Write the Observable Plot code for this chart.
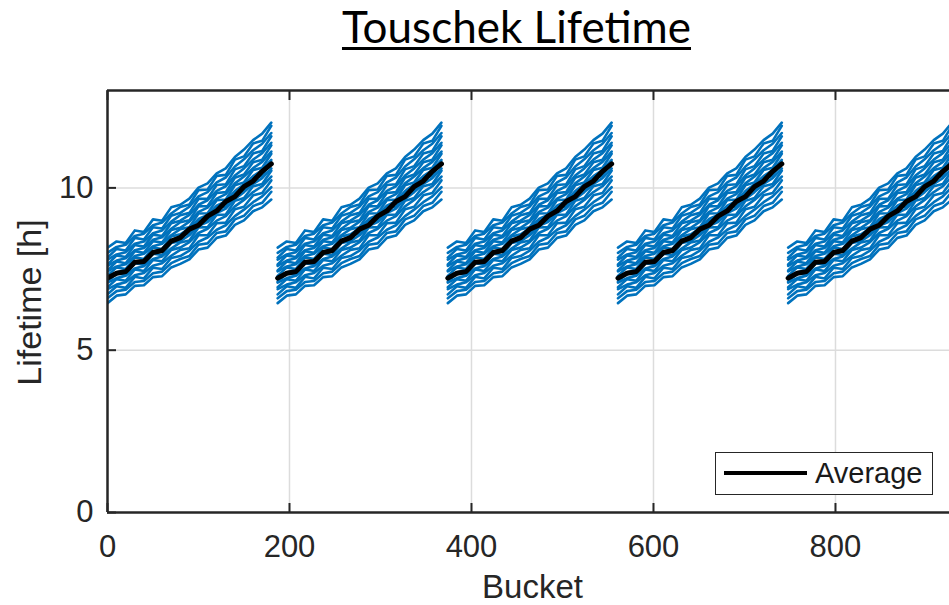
<!DOCTYPE html>
<html>
<head>
<meta charset="utf-8">
<script src="https://cdn.jsdelivr.net/npm/d3@7"></script>
<script src="https://cdn.jsdelivr.net/npm/@observablehq/plot@0.6"></script>
<style>
  html, body { margin: 0; padding: 0; background: #fff; }
  #wrap { position: relative; width: 949px; height: 605px; overflow: hidden; font-family: "Liberation Sans", Arial, sans-serif; }
  #title { position: absolute; left: 0; width: 1033px; top: 5px; text-align: center; font-family: Lato, sans-serif; font-size: 44px; line-height: 43px; color: #000; text-decoration: underline; text-decoration-thickness: 3px; text-underline-offset: 4px; }
  #chart { position: absolute; left: 0; top: 0; }
  #legend { position: absolute; left: 715px; top: 452px; width: 216px; height: 41px; background: #fff; border: 1.5px solid #262626; }
  #legend .sw { position: absolute; left: 8px; top: 18px; width: 83px; height: 4px; background: #000; }
  #legend .lb { position: absolute; left: 99px; top: 4px; font-size: 29px; line-height: 32px; color: #1a1a1a; }
</style>
</head>
<body>
<div id="wrap">
  <div id="chart"></div>
  <div id="title">Touschek Lifetime</div>
  <div id="legend"><div class="sw"></div><div class="lb">Average</div></div>
</div>
<script>
// Train layout (bucket numbers)
const trainStarts = [0, 187, 374, 561, 748];
const bucketOffsets = [0, 10, 20, 30, 40, 50, 60, 70, 80, 90, 100, 110, 120, 130, 140, 150, 160, 170, 180];

// Individual bunch-lifetime traces (hours), read at the offsets above
const blueTraces = [
  [6.45, 6.68, 6.72, 6.98, 7.00, 7.25, 7.28, 7.55, 7.66, 7.80, 8.10, 8.16, 8.46, 8.53, 8.86, 9.00, 9.28, 9.40, 9.64],
  [6.60, 6.82, 6.86, 7.10, 7.13, 7.37, 7.42, 7.68, 7.81, 7.90, 8.25, 8.29, 8.61, 8.66, 9.03, 9.14, 9.44, 9.54, 9.88],
  [6.72, 6.97, 6.92, 7.26, 7.21, 7.54, 7.50, 7.84, 7.90, 8.07, 8.34, 8.47, 8.71, 8.85, 9.13, 9.33, 9.56, 9.74, 10.02],
  [6.88, 7.02, 7.09, 7.31, 7.38, 7.60, 7.68, 7.91, 8.09, 8.14, 8.54, 8.54, 8.91, 8.93, 9.34, 9.42, 9.77, 9.84, 10.23],
  [6.94, 7.19, 7.14, 7.49, 7.44, 7.78, 7.74, 8.09, 8.16, 8.33, 8.61, 8.74, 8.99, 9.13, 9.43, 9.63, 9.87, 10.05, 10.35],
  [7.08, 7.22, 7.29, 7.52, 7.59, 7.81, 7.89, 8.13, 8.32, 8.38, 8.78, 8.79, 9.17, 9.18, 9.60, 9.69, 10.05, 10.12, 10.53],
  [7.11, 7.37, 7.32, 7.68, 7.63, 7.97, 7.93, 8.30, 8.36, 8.54, 8.83, 8.95, 9.22, 9.36, 9.66, 9.87, 10.12, 10.30, 10.60],
  [7.25, 7.40, 7.47, 7.71, 7.78, 8.01, 8.09, 8.34, 8.53, 8.59, 8.99, 9.00, 9.39, 9.41, 9.84, 9.93, 10.30, 10.37, 10.79],
  [7.29, 7.55, 7.50, 7.86, 7.81, 8.16, 8.12, 8.50, 8.57, 8.75, 9.04, 9.17, 9.45, 9.59, 9.90, 10.11, 10.36, 10.55, 10.86],
  [7.43, 7.58, 7.65, 7.90, 7.97, 8.20, 8.28, 8.54, 8.73, 8.79, 9.21, 9.22, 9.62, 9.64, 10.08, 10.17, 10.55, 10.62, 11.05],
  [7.46, 7.73, 7.68, 8.05, 8.00, 8.36, 8.32, 8.70, 8.77, 8.96, 9.26, 9.39, 9.67, 9.81, 10.14, 10.35, 10.61, 10.80, 11.12],
  [7.60, 7.76, 7.83, 8.08, 8.15, 8.40, 8.48, 8.74, 8.94, 9.00, 9.43, 9.44, 9.84, 9.87, 10.31, 10.41, 10.79, 10.87, 11.31],
  [7.64, 7.92, 7.87, 8.24, 8.19, 8.56, 8.52, 8.91, 8.99, 9.17, 9.48, 9.62, 9.91, 10.05, 10.38, 10.60, 10.87, 11.07, 11.39],
  [7.79, 7.95, 8.02, 8.28, 8.35, 8.60, 8.69, 8.96, 9.16, 9.23, 9.66, 9.67, 10.09, 10.11, 10.57, 10.67, 11.06, 11.14, 11.59],
  [7.85, 8.12, 8.07, 8.46, 8.41, 8.79, 8.75, 9.14, 9.23, 9.42, 9.74, 9.87, 10.17, 10.32, 10.66, 10.88, 11.16, 11.36, 11.69],
  [8.00, 8.18, 8.25, 8.52, 8.59, 8.85, 8.93, 9.21, 9.41, 9.49, 9.93, 9.95, 10.37, 10.40, 10.87, 10.97, 11.37, 11.45, 11.91],
  [8.16, 8.35, 8.30, 8.69, 8.64, 9.03, 8.99, 9.40, 9.48, 9.67, 10.01, 10.14, 10.45, 10.60, 10.95, 11.18, 11.47, 11.67, 12.01]
];

// Average lifetime (hours) at the same offsets
const averageTrace = [7.22, 7.37, 7.42, 7.71, 7.73, 8.01, 8.07, 8.36, 8.47, 8.73, 8.85, 9.13, 9.29, 9.58, 9.73, 10.04, 10.21, 10.51, 10.74];

// Axis ticks and labels
const xTicks = [0, 200, 400, 600, 800];
const yTicks = [0, 5, 10];
const xLabel = "Bucket";
const yLabel = "Lifetime [h]";

const blueRows = [];
const avgRows = [];
trainStarts.forEach((t0, ti) => {
  blueTraces.forEach((tr, li) => {
    tr.forEach((v, k) => blueRows.push({x: t0 + bucketOffsets[k], y: v, s: ti + "-" + li}));
  });
  averageTrace.forEach((v, k) => avgRows.push({x: t0 + bucketOffsets[k], y: v, s: ti}));
});

const axisColor = "#262626";
const chart = Plot.plot({
  width: 949,
  height: 605,
  marginLeft: 107,
  marginRight: 0,
  marginTop: 90,
  marginBottom: 93,
  x: {domain: [0, 925.3]},
  y: {domain: [0, 13]},
  style: {fontFamily: "'Liberation Sans', Arial, sans-serif", background: "transparent", color: axisColor},
  marks: [
    Plot.gridX(xTicks.filter(d => d > 0), {stroke: "#dcdcdc", strokeOpacity: 1, strokeWidth: 1.5}),
    Plot.gridY(yTicks.filter(d => d > 0), {stroke: "#dcdcdc", strokeOpacity: 1, strokeWidth: 1.5}),
    Plot.line(blueRows, {x: "x", y: "y", z: "s", stroke: "#0072BD", strokeWidth: 2.6, clip: true}),
    Plot.line(avgRows, {x: "x", y: "y", z: "s", stroke: "#000", strokeWidth: 5, clip: true}),
    Plot.ruleY([0], {stroke: axisColor, strokeWidth: 2.5}),
    Plot.ruleY([13], {stroke: axisColor, strokeWidth: 2.5}),
    Plot.ruleX([0], {stroke: axisColor, strokeWidth: 2.5}),
    Plot.axisX(xTicks, {anchor: "bottom", tickSize: -9, strokeWidth: 2, stroke: axisColor, fill: "none", label: null}),
    Plot.axisX(xTicks, {anchor: "top", tickSize: -9, strokeWidth: 2, stroke: axisColor, fill: "none", label: null}),
    Plot.axisY(yTicks, {anchor: "left", tickSize: -9, strokeWidth: 2, stroke: axisColor, fill: "none", label: null}),
    Plot.axisX(xTicks, {anchor: "bottom", tickSize: 0, tickPadding: 22, fontSize: 31, fill: axisColor, label: null}),
    Plot.axisY(yTicks, {anchor: "left", tickSize: 0, tickPadding: 14, fontSize: 31, fill: axisColor, label: null}),
    Plot.text([xLabel], {frameAnchor: "bottom", textAnchor: "middle", text: d => d, dx: 4, dy: 85, fontSize: 33, fill: axisColor}),
    Plot.text([yLabel], {frameAnchor: "left", textAnchor: "middle", text: d => d, rotate: -90, dx: -77, dy: 1, fontSize: 34, fill: axisColor})
  ]
});
document.getElementById("chart").appendChild(chart);
</script>
</body>
</html>
